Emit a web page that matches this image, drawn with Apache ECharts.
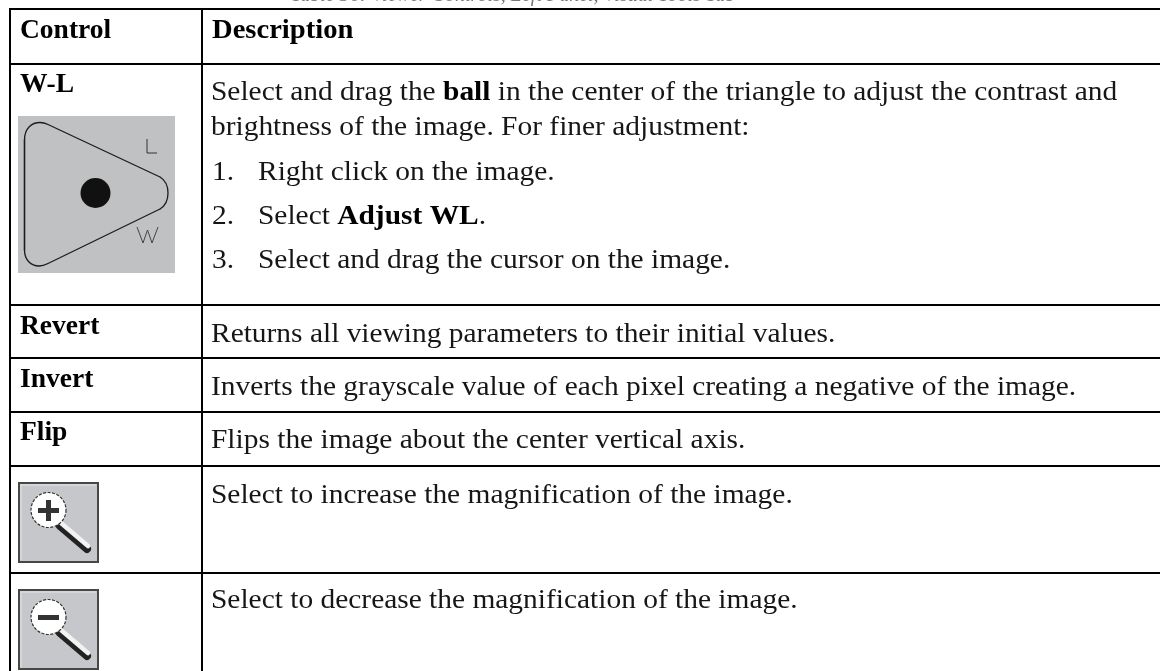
<!DOCTYPE html>
<html>
<head>
<meta charset="utf-8">
<style>html,body{margin:0;padding:0;background:#fff}#c{width:1160px;height:671px}</style>
<script src="https://cdn.jsdelivr.net/npm/echarts@6/dist/echarts.min.js"></script>
</head>
<body>
<div id="c"></div>
<script>
const tableCaption = 'Table 36: Viewer Controls, Left Panel, Visual Tools Tab';
const headers = ['Control', 'Description'];
const controlNames = ['W-L', 'Revert', 'Invert', 'Flip'];
const introLines = ['Select and drag the {b|ball} in the center of the triangle to adjust the contrast and',
                    'brightness of the image. For finer adjustment:'];
const stepNumbers = ['1.', '2.', '3.'];
const stepLines = ['Right click on the image.', 'Select {b|Adjust WL}.', 'Select and drag the cursor on the image.'];
const rowDescriptions = ['Returns all viewing parameters to their initial values.',
  'Inverts the grayscale value of each pixel creating a negative of the image.',
  'Flips the image about the center vertical axis.',
  'Select to increase the magnification of the image.',
  'Select to decrease the magnification of the image.'];

const FONT = '"Liberation Serif"';
const SX = 1.07, SIZE = 27.5;
const els = [];
function txt(s, x, base, opt) {
  opt = opt || {};
  const size = opt.size || SIZE;
  els.push({
    type: 'text', x: x, y: base + Math.round(size * 0.24) + 2, scaleX: opt.sx || SX, silent: true, z: opt.z || 5,
    style: {
      text: s, x: 0, y: 0, align: 'left', verticalAlign: 'bottom',
      fontFamily: FONT, fontSize: size, fontWeight: opt.bold ? 'bold' : 'normal', fontStyle: opt.italic ? 'italic' : 'normal',
      fill: opt.fill || '#161616', lineHeight: size * 1.15,
      rich: { b: { fontFamily: FONT, fontSize: size, fontWeight: 'bold', fill: '#000', lineHeight: size * 1.15 } }
    }
  });
}
function line(x1, y1, x2, y2, w, c, z) {
  els.push({ type: 'line', silent: true, z: z || 3, shape: { x1, y1, x2, y2 }, style: { stroke: c || '#000', lineWidth: w || 2, lineCap: 'round' } });
}
function curve(x1, y1, cpx1, cpy1, cpx2, cpy2, x2, y2) {
  els.push({ type: 'bezierCurve', silent: true, z: 3, shape: { x1, y1, cpx1, cpy1, cpx2, cpy2, x2, y2 }, style: { fill: 'none', stroke: '#1c1c1c', lineWidth: 1.3 } });
}
// rules
[8, 63, 304, 357, 411, 465, 572].forEach(y => els.push({ type: 'rect', silent: true, z: 3, shape: { x: 9, y: y, width: 1151, height: 2 }, style: { fill: '#000' } }));
[9, 201].forEach(x => els.push({ type: 'rect', silent: true, z: 3, shape: { x: x, y: 8, width: 2, height: 663 }, style: { fill: '#000' } }));

// caption (clipped by the top edge)
txt(tableCaption, 291, 0, { italic: true, size: 20, sx: 1, fill: '#777' });

// header
txt(headers[0], 20, 38, { bold: true, sx: 1, fill: '#000' });
txt(headers[1], 212, 38, { bold: true, sx: 1.04, fill: '#000' });

// first col
const nameBase = [92, 334, 387, 440];
controlNames.forEach((n, i) => txt(n, 20, nameBase[i], { bold: true, sx: 1, fill: '#000' }));

// description
txt(introLines[0], 211, 100); txt(introLines[1], 211, 135);
[180, 224, 268].forEach((b, i) => { txt(stepNumbers[i], 212, b); txt(stepLines[i], 258, b); });
[342, 395, 448, 503, 608].forEach((b, i) => txt(rowDescriptions[i], 211, b));

// W-L icon
els.push({ type: 'rect', silent: true, z: 2, shape: { x: 18, y: 116, width: 157, height: 157 }, style: { fill: '#bfc1c2' } });
curve(24.5, 140, 24.5, 128, 32, 122.5, 40, 122.5);
curve(40, 122.5, 43, 122.5, 46, 123.5, 48, 124.5);
line(48, 124.5, 160, 177, 1.3, '#1c1c1c');
curve(160, 177, 165, 180, 168, 186, 168, 193);
curve(168, 193, 168, 200, 165, 206, 160, 209);
line(160, 209, 48, 263.5, 1.3, '#1c1c1c');
curve(48, 263.5, 46, 264.5, 43, 266, 39, 266);
curve(39, 266, 31, 266, 24.5, 260, 24.5, 250);
line(24.5, 250, 24.5, 140, 1.6, '#1c1c1c');
els.push({ type: 'circle', silent: true, z: 3, shape: { cx: 95.5, cy: 193, r: 15 }, style: { fill: '#111' } });
els.push({ type: 'polyline', silent: true, z: 3, shape: { points: [[147, 139], [147, 153], [157, 153]] }, style: { fill: 'none', stroke: '#333', lineWidth: 1 } });
els.push({ type: 'polyline', silent: true, z: 3, shape: { points: [[137, 227], [143, 243], [147.5, 230], [152, 243], [158, 227]] }, style: { fill: 'none', stroke: '#444', lineWidth: 1 } });

// magnifier buttons
function magnifier(top, plus) {
  const o = top - 589;
  els.push({ type: 'rect', silent: true, z: 2, shape: { x: 19, y: 590 + o, width: 79, height: 79 }, style: { fill: '#c6c7cb', stroke: '#474747', lineWidth: 2 } });
  line(21, 592 + o, 96, 592 + o, 1, '#e4e4e6');
  line(21, 592 + o, 21, 667 + o, 1, '#e4e4e6');
  line(60, 633 + o, 87, 656 + o, 8, '#222');
  line(61, 630 + o, 88, 653 + o, 4.5, '#f2f2f2');
  els.push({ type: 'circle', silent: true, z: 4, shape: { cx: 48.5, cy: 617 + o, r: 17.5 }, style: { fill: '#fff', stroke: '#333', lineWidth: 1.2, lineDash: [3, 1.5] } });
  els.push({ type: 'rect', silent: true, z: 5, shape: { x: 38, y: 615 + o, width: 21, height: 5 }, style: { fill: '#333' } });
  if (plus) els.push({ type: 'rect', silent: true, z: 5, shape: { x: 46, y: 607 + o, width: 5, height: 21 }, style: { fill: '#333' } });
}
magnifier(482, true);
magnifier(589, false);

const chart = echarts.init(document.getElementById('c'), null, { renderer: 'canvas' });
chart.setOption({ animation: false, backgroundColor: '#fff', graphic: { elements: els } });
</script>
</body>
</html>
